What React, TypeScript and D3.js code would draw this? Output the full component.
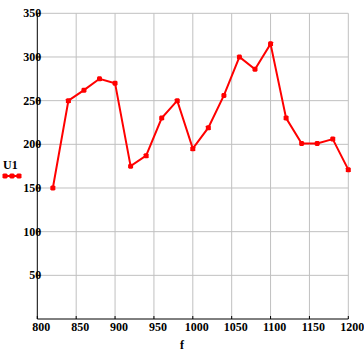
import React from "react";
import * as d3 from "d3";

const fValues = [820, 840, 860, 880, 900, 920, 940, 960, 980, 1000, 1020, 1040, 1060, 1080, 1100, 1120, 1140, 1160, 1180, 1200];
const u1Values = [150, 250, 262, 275, 270, 175, 187, 230, 250, 195, 219, 256, 300, 286, 315, 230, 201, 201, 206, 171];
const xTicks = [800, 850, 900, 950, 1000, 1050, 1100, 1150, 1200];
const yTicks = [50, 100, 150, 200, 250, 300, 350];
const seriesName = "U1";
const xLabel = "f";

export default function App() {
  const W = 364, H = 354;
  const left = 37.3, right = 348.3, top = 13.3, bottom = 319;
  const x = d3.scaleLinear().domain([800, 1200]).range([left, right]);
  const y = d3.scaleLinear().domain([0, 350]).range([bottom, top]);
  const line = d3.line<number>().x((_, i) => x(fValues[i])).y((d) => y(d));
  const font = "'Liberation Serif', 'Times New Roman', serif";
  const marker = (cx: number, cy: number, key: string) => (
    <path key={key} d={`M${cx - 2.5},${cy - 1.5} L${cx - 1.5},${cy - 2.5} L${cx + 1.5},${cy - 2.5} L${cx + 2.5},${cy - 1.5} L${cx + 2.5},${cy + 1.5} L${cx + 1.5},${cy + 2.5} L${cx - 1.5},${cy + 2.5} L${cx - 2.5},${cy + 1.5} Z`} fill="#ff0000" />
  );
  return (
    <svg width={W} height={H} style={{ position: "absolute", left: 0, top: 0, background: "#fff" }}>
      {xTicks.slice(1).map((t) => (
        <line key={"gx" + t} x1={x(t)} x2={x(t)} y1={top} y2={bottom} stroke="#c0c0c0" strokeWidth={1} />
      ))}
      {yTicks.map((t) => (
        <line key={"gy" + t} x1={left} x2={right} y1={y(t)} y2={y(t)} stroke="#c0c0c0" strokeWidth={1} />
      ))}
      <line x1={left} x2={left} y1={top} y2={bottom} stroke="#000" strokeWidth={1} />
      <line x1={left} x2={right} y1={bottom} y2={bottom} stroke="#000" strokeWidth={1} />
      {xTicks.map((t) => (
        <line key={"tx" + t} x1={x(t)} x2={x(t)} y1={bottom - 3} y2={bottom} stroke="#000" strokeWidth={1} />
      ))}
      {yTicks.map((t) => (
        <line key={"ty" + t} x1={left} x2={left + 3} y1={y(t)} y2={y(t)} stroke="#000" strokeWidth={1} />
      ))}
      {xTicks.map((t) => (
        <text key={"lx" + t} x={x(t) + 4} y={bottom + 12} textAnchor="middle" fontFamily={font} fontWeight="bold" fontSize={12} fill="#000">{t}</text>
      ))}
      {yTicks.map((t) => (
        <text key={"ly" + t} x={left + 4} y={y(t) + 4} textAnchor="end" fontFamily={font} fontWeight="bold" fontSize={12} fill="#000">{t}</text>
      ))}
      <text x={182} y={349} textAnchor="middle" fontFamily={font} fontWeight="bold" fontSize={12} fill="#000">{xLabel}</text>
      <path d={line(u1Values) || ""} fill="none" stroke="#ff0000" strokeWidth={2} />
      {u1Values.map((v, i) => marker(x(fValues[i]), y(v), "m" + i))}
      <text x={3} y={169} fontFamily={font} fontWeight="bold" fontSize={12} fill="#000">{seriesName}</text>
      <line x1={3} x2={21} y1={176} y2={176} stroke="#ff0000" strokeWidth={2} />
      {[5, 12, 19].map((cx) => marker(cx, 176, "lm" + cx))}
    </svg>
  );
}
